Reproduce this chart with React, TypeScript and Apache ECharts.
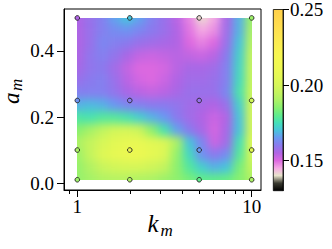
import React, { useEffect, useRef } from "react";
import * as echarts from "echarts";

// ---- data ----
const pointK = [1, 2, 5, 10];
const pointA = [0.5, 0.25, 0.1, 0.01];
const pointValues = [
  [0.155, 0.17, 0.141, 0.188], // a = 0.5
  [0.164, 0.16, 0.158, 0.198], // a = 0.25
  [0.19, 0.21, 0.165, 0.205], // a = 0.1
  [0.188, 0.191, 0.18, 0.19], // a = 0.01
];

// sample positions of the colour field
const fieldK = [1, 1.179, 1.389, 1.638, 1.931, 2.276, 2.683, 3.162, 3.728, 4.394, 5.179, 6.105, 7.197, 8.483, 10];
const fieldA = [0.5, 0.462, 0.425, 0.387, 0.349, 0.312, 0.274, 0.236, 0.198, 0.161, 0.123, 0.085, 0.048, 0.01];
const fieldValues = [
  [0.155, 0.158, 0.161, 0.166, 0.17, 0.166, 0.161, 0.158, 0.154, 0.148, 0.141, 0.145, 0.156, 0.168, 0.188],
  [0.155, 0.158, 0.161, 0.163, 0.164, 0.162, 0.16, 0.158, 0.155, 0.149, 0.145, 0.147, 0.157, 0.168, 0.19],
  [0.155, 0.158, 0.162, 0.161, 0.16, 0.158, 0.157, 0.156, 0.155, 0.15, 0.148, 0.15, 0.158, 0.17, 0.193],
  [0.155, 0.159, 0.161, 0.159, 0.156, 0.153, 0.152, 0.153, 0.154, 0.153, 0.152, 0.154, 0.16, 0.172, 0.196],
  [0.156, 0.159, 0.16, 0.157, 0.153, 0.15, 0.15, 0.151, 0.154, 0.156, 0.156, 0.157, 0.161, 0.173, 0.197],
  [0.158, 0.16, 0.161, 0.158, 0.154, 0.151, 0.15, 0.152, 0.155, 0.157, 0.157, 0.158, 0.161, 0.174, 0.197],
  [0.161, 0.161, 0.161, 0.159, 0.156, 0.154, 0.153, 0.154, 0.156, 0.158, 0.158, 0.158, 0.162, 0.176, 0.198],
  [0.168, 0.169, 0.168, 0.165, 0.162, 0.161, 0.16, 0.16, 0.159, 0.157, 0.156, 0.155, 0.158, 0.172, 0.2],
  [0.177, 0.176, 0.178, 0.178, 0.176, 0.172, 0.168, 0.165, 0.16, 0.157, 0.155, 0.152, 0.155, 0.17, 0.2],
  [0.185, 0.189, 0.194, 0.199, 0.2, 0.197, 0.186, 0.176, 0.166, 0.16, 0.156, 0.151, 0.156, 0.17, 0.2],
  [0.19, 0.195, 0.2, 0.205, 0.208, 0.208, 0.205, 0.203, 0.19, 0.17, 0.162, 0.152, 0.157, 0.175, 0.205],
  [0.188, 0.195, 0.203, 0.207, 0.21, 0.21, 0.207, 0.203, 0.187, 0.174, 0.164, 0.16, 0.163, 0.178, 0.2],
  [0.187, 0.191, 0.196, 0.199, 0.2, 0.2, 0.198, 0.195, 0.186, 0.178, 0.172, 0.168, 0.17, 0.183, 0.195],
  [0.187, 0.189, 0.191, 0.192, 0.192, 0.191, 0.19, 0.188, 0.186, 0.183, 0.18, 0.18, 0.181, 0.185, 0.19],
];

const xMajorTicks = [1, 10];
const xMinorTicks = [0.9, 2, 3, 4, 5, 6, 7, 8, 9];
const yTicks = [0, 0.2, 0.4];
const cbTicks = [0.15, 0.2, 0.25];
const X_MIN = 0.839;
const X_MAX = 11.31;
const Y_MIN = -0.021;
const Y_MAX = 0.527;
const V_MIN = 0.13;
const V_MAX = 0.25;

// colour map, evenly spaced from V_MIN to V_MAX
const colorList = [
  "#000000", "#3a3a30", "#e8e4cc", "#f4a8e4", "#dc68e0", "#b064e4", "#8a7aee", "#6a98f2",
  "#48c4dc", "#44e0b8", "#60ec8c", "#88f070", "#acf266", "#c4f45e", "#d6f658", "#e2f854",
  "#ecf852", "#f2f850", "#f6f650", "#faf050", "#fcea50", "#fee350", "#ffdc4e", "#ffd64c", "#ffd04a",
];

const FONT = "Liberation Serif, serif";

export default function App() {
  const clipRef = useRef<HTMLDivElement>(null);
  const crispRef = useRef<HTMLDivElement>(null);
  const blurRef = useRef<HTMLDivElement>(null);
  const mainRef = useRef<HTMLDivElement>(null);

  useEffect(() => {
    document.body.style.margin = "0";
    const charts: echarts.ECharts[] = [];

    const scatterData: number[][] = [];
    pointA.forEach((a, r) =>
      pointK.forEach((k, c) => scatterData.push([k, a, pointValues[r][c]]))
    );

    const main = echarts.init(mainRef.current!, null, { renderer: "svg" });
    charts.push(main);
    const axisText = { fontSize: 19, fontFamily: FONT, color: "#000" };
    const nameStyle = (text: string, size: number) => ({
      text, fontSize: size, fontStyle: "italic", fontFamily: FONT, fill: "#000", align: "left", verticalAlign: "middle",
    });
    main.setOption({
      animation: false,
      grid: [
        { left: 64, top: 9, width: 197, height: 181, show: true, borderColor: "#000", borderWidth: 1, backgroundColor: "transparent" },
        {
          left: 273.3, top: 8.7, width: 9.7, height: 182, show: true, borderColor: "#000", borderWidth: 0.8,
          backgroundColor: {
            type: "linear", x: 0, y: 1, x2: 0, y2: 0,
            colorStops: colorList.map((c, i) => ({ offset: i / (colorList.length - 1), color: c })),
          },
        },
      ],
      xAxis: [
        {
          type: "log", gridIndex: 0, min: X_MIN, max: X_MAX, position: "bottom",
          axisLine: { show: true, onZero: false, lineStyle: { color: "#000", width: 1 } },
          axisTick: { show: true, customValues: xMajorTicks, length: 7, lineStyle: { color: "#000", width: 1 } },
          axisLabel: { customValues: xMajorTicks, margin: 7, ...axisText, formatter: (v: number) => String(Math.round(v)) },
          splitLine: { show: false },
        },
        {
          type: "log", gridIndex: 0, min: X_MIN, max: X_MAX, position: "bottom",
          axisLine: { show: false, onZero: false },
          axisTick: { show: true, customValues: xMinorTicks, length: 4, lineStyle: { color: "#000", width: 1 } },
          axisLabel: { show: false },
          splitLine: { show: false },
        },
        { type: "value", gridIndex: 1, min: 0, max: 1, show: false },
      ],
      yAxis: [
        {
          type: "value", gridIndex: 0, min: Y_MIN, max: Y_MAX,
          axisLine: { show: true, onZero: false, lineStyle: { color: "#000", width: 1 } },
          axisTick: { show: true, customValues: yTicks, length: 7, lineStyle: { color: "#000", width: 1 } },
          axisLabel: { customValues: yTicks, margin: 10, ...axisText, formatter: (v: number) => v.toFixed(1) },
          splitLine: { show: false },
        },
        {
          type: "value", gridIndex: 1, position: "right", min: V_MIN, max: V_MAX,
          axisLine: { show: true, onZero: false, lineStyle: { color: "#000", width: 0.8 } },
          axisTick: { show: true, customValues: cbTicks, length: 6, lineStyle: { color: "#000", width: 1 } },
          axisLabel: { customValues: cbTicks, margin: 7, ...axisText, formatter: (v: number) => v.toFixed(2) },
          splitLine: { show: false },
        },
      ],
      visualMap: [
        { type: "continuous", show: false, seriesIndex: 0, dimension: 2, min: V_MIN, max: V_MAX, inRange: { color: colorList } },
      ],
      series: [
        {
          type: "scatter", xAxisIndex: 0, yAxisIndex: 0, data: scatterData, symbol: "circle", symbolSize: 4.6,
          itemStyle: { borderColor: "#222", borderWidth: 0.9, opacity: 1 }, z: 5, silent: true,
        },
      ],
      graphic: [
        { type: "text", x: 147.5, y: 223.8, style: nameStyle("k", 25) },
        { type: "text", x: 160.5, y: 230.2, style: nameStyle("m", 17) },
        { type: "text", x: 11.8, y: 104, rotation: Math.PI / 2, style: nameStyle("a", 23) },
        { type: "text", x: 16.2, y: 91, rotation: Math.PI / 2, style: nameStyle("m", 17) },
      ],
    });

    // place the colour field exactly over the data region using the main chart's scales
    const p0 = main.convertToPixel({ gridIndex: 0 }, [fieldK[0], fieldA[0]]) as number[];
    const p1 = main.convertToPixel({ gridIndex: 0 }, [fieldK[fieldK.length - 1], fieldA[fieldA.length - 1]]) as number[];
    const clipW = p1[0] - p0[0];
    const clipH = p1[1] - p0[1];
    const cellW = clipW / (fieldK.length - 1);
    const cellH = clipH / (fieldA.length - 1);
    const clip = clipRef.current!;
    Object.assign(clip.style, { left: `${p0[0]}px`, top: `${p0[1]}px`, width: `${clipW}px`, height: `${clipH}px` });

    const heatData: number[][] = [];
    fieldValues.forEach((row, r) => row.forEach((v, c) => heatData.push([c, r, v])));
    const heatOption = {
      animation: false,
      grid: { left: 0, right: 0, top: 0, bottom: 0 },
      xAxis: { type: "category", data: fieldK.map(String), show: false },
      yAxis: { type: "category", data: fieldA.map(String), show: false, inverse: true },
      visualMap: { type: "continuous", show: false, min: V_MIN, max: V_MAX, dimension: 2, inRange: { color: colorList } },
      series: [{ type: "heatmap", data: heatData, itemStyle: { borderWidth: 0 }, silent: true }],
    };
    for (const el of [crispRef.current!, blurRef.current!]) {
      Object.assign(el.style, {
        left: `${-cellW / 2}px`, top: `${-cellH / 2}px`,
        width: `${cellW * fieldK.length}px`, height: `${cellH * fieldA.length}px`,
      });
      const c = echarts.init(el, null, { renderer: "svg" });
      c.setOption(heatOption);
      charts.push(c);
    }

    return () => charts.forEach((c) => c.dispose());
  }, []);

  return (
    <div style={{ position: "fixed", left: 0, top: 0, width: 332, height: 249, background: "#fff", overflow: "hidden" }}>
      <div ref={clipRef} style={{ position: "absolute", overflow: "hidden" }}>
        <div ref={crispRef} style={{ position: "absolute" }} />
        <div ref={blurRef} style={{ position: "absolute", filter: "blur(4.5px)" }} />
      </div>
      <div ref={mainRef} style={{ position: "absolute", left: 0, top: 0, width: 332, height: 249 }} />
    </div>
  );
}
